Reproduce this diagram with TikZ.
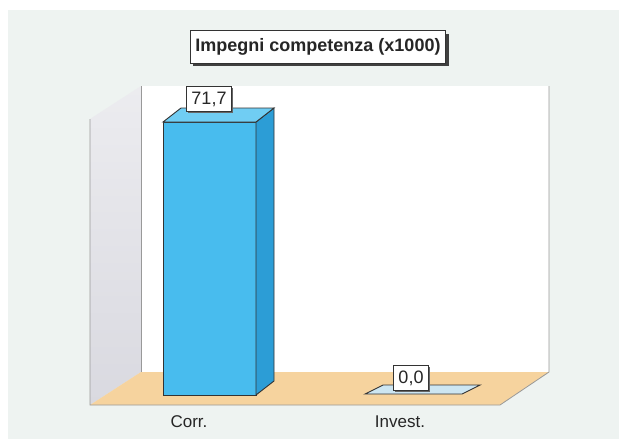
\documentclass[tikz,border=0pt]{standalone}
\usepackage{fontspec}
\setmainfont{Liberation Sans}
\usetikzlibrary{shadows}
\definecolor{panelgray}{HTML}{EEF3F1}
\definecolor{wallgray}{HTML}{D9D9E0}
\definecolor{floortan}{HTML}{F6D39E}
\definecolor{barfront}{HTML}{48BCEE}
\definecolor{barside}{HTML}{2C9DD6}
\definecolor{bartop}{HTML}{70CDF3}
\definecolor{flatblue}{HTML}{CDE6F2}
\begin{document}
\begin{tikzpicture}[x=1pt, y=-1pt,
          frame line/.style={draw=gray!80, line width=0.8pt},
          bar line/.style={draw=black!80, line width=0.9pt},
          value box/.style={draw=black!80, fill=white, line width=0.6pt, inner xsep=5pt, inner ysep=5pt,
                            font=\fontsize{18}{18}\selectfont, text=black!85,
                            drop shadow={shadow xshift=1.5pt, shadow yshift=-1.5pt, fill=black!60, opacity=1}},
          cat label/.style={font=\fontsize{17}{17}\selectfont, text=black!85}]
  \useasboundingbox (0,0) rectangle (619,439);
  % panel
  \fill[panelgray] (8,10) rectangle (619,439);
  % walls and floor
  \fill[white] (141,86) rectangle (549,372);
  \shade[top color=wallgray!50, bottom color=wallgray] (90,119) -- (141,86) -- (141,372) -- (90,405) -- cycle;
  \fill[floortan] (90,405) -- (500,405) -- (549,372) -- (141,372) -- cycle;
  \draw[frame line] (141,86) -- (141,372);
  \draw[frame line] (549,86) -- (549,372) -- (500,405) -- (90,405) -- (90,119);
  % bar Corr.
  \filldraw[bar line, fill=barfront] (163,122) rectangle (256,395);
  \filldraw[bar line, fill=barside] (256,122) -- (274,108) -- (274,381) -- (256,395) -- cycle;
  \filldraw[bar line, fill=bartop] (163,122) -- (256,122) -- (274,108) -- (181,108) -- cycle;
  % bar Invest.
  \filldraw[bar line, fill=flatblue] (365,394) -- (462,394) -- (480,385) -- (383,385) -- cycle;
  % labels
  \node[draw=black!80, fill=white, line width=0.6pt, inner xsep=5pt, inner ysep=8pt,
        font=\bfseries\fontsize{18}{18}\selectfont, text=black!85,
        drop shadow={shadow xshift=3pt, shadow yshift=-3pt, fill=black!75, opacity=1}]
        (title) at (318,47) {Impegni competenza (x1000)};
  \node[value box] (corrval) at (209,99) {71,7};
  \node[value box] (investval) at (411,378) {0,0};
  \node[cat label] (corr) at (189,422) {Corr.};
  \node[cat label] (invest) at (400,422) {Invest.};
\end{tikzpicture}
\end{document}
